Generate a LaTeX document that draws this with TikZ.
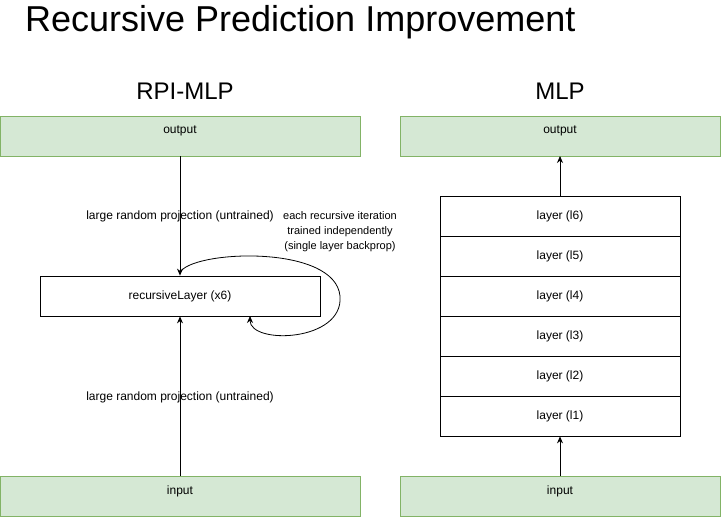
\documentclass[tikz,border=0pt]{standalone}
\usepackage{fontspec}
\setmainfont{Liberation Sans}
\usetikzlibrary{arrows.meta}
\definecolor{gfill}{HTML}{D5E8D4}
\definecolor{gline}{HTML}{82B366}
\tikzset{
  io/.style={draw=gline,fill=gfill,line width=0.8pt},
  plain/.style={draw=black,line width=0.8pt},
  lbl/.style={inner sep=0pt,font=\fontsize{12}{14}\selectfont},
  note/.style={inner sep=0pt,font=\fontsize{11}{15}\selectfont,align=center},
  conn/.style={line width=0.8pt,-{Stealth[length=7pt,width=6pt]}}
}
\begin{document}
\begin{tikzpicture}[x=1pt,y=-1pt]
\useasboundingbox (0,0) rectangle (721,517);
% title
\node[inner sep=0pt,anchor=west,font=\fontsize{36}{40}\selectfont] (title) at (25,22) {Recursive Prediction Improvement};
\node[inner sep=0pt,font=\fontsize{24}{28}\selectfont] (hL) at (185,91) {RPI-MLP};
\node[inner sep=0pt,font=\fontsize{24}{28}\selectfont] (hR) at (560,91) {MLP};
% left column
\path[io] (0.5,116) rectangle (360,156);
\coordinate (outL) at (180,156);
\node[lbl] (outLt) at (180,131) {output};
\path[io] (0.5,476) rectangle (360,516);
\coordinate (inL) at (180,476);
\node[lbl] (inLt) at (180,491) {input};
\node[plain,minimum width=280pt,minimum height=40pt,inner sep=0pt,font=\fontsize{12}{14}\selectfont] (rec) at (180,296) {\raisebox{-1pt}{recursiveLayer (x6)}};
\draw[conn] (outL) -- (rec.north);
\draw[conn] (inL) -- (rec.south);
\node[lbl] (p1) at (180,216) {large random projection (untrained)};
\node[lbl] (p2) at (180,397) {large random projection (untrained)};
\node[note] (nt) at (340,232) {each recursive iteration\\trained independently\\(single layer backprop)};
\coordinate (cs) at (181,271);
\coordinate (ce) at (250,316);
\draw[conn] (cs) .. controls (198,250) and (335,245) .. (340,296) .. controls (344,342) and (250,345) .. (ce);
% right column
\path[io] (400,116) rectangle (720.5,156);
\coordinate (outR) at (560,156);
\node[lbl] (outRt) at (560,131) {output};
\path[io] (400,476) rectangle (720.5,516);
\coordinate (inR) at (560,476);
\node[lbl] (inRt) at (560,491) {input};
\foreach \i/\y in {6/216,5/256,4/296,3/336,2/376,1/416}{
  \node[plain,minimum width=240pt,minimum height=40pt,inner sep=0pt,font=\fontsize{12}{14}\selectfont] (l\i) at (560,\y) {\raisebox{-1pt}{layer (l\i)}};
}
\draw[conn] (l6.north) -- (outR);
\draw[conn] (inR) -- (l1.south);
\end{tikzpicture}
\end{document}
